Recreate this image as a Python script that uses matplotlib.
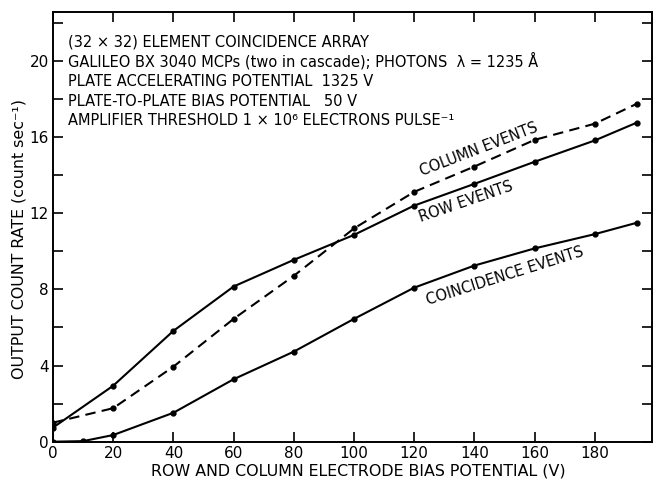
import matplotlib
matplotlib.use("Agg")
import matplotlib.pyplot as plt

# ---- data ----
row_x = [0, 20, 40, 60, 80, 100, 120, 140, 160, 180, 194]
row_y = [0.74, 2.94, 5.82, 8.15, 9.55, 10.86, 12.4, 13.54, 14.7, 15.82, 16.76]

col_x = [0, 20, 40, 60, 80, 100, 120, 140, 160, 180, 194]
col_y = [1.0, 1.76, 3.94, 6.45, 8.71, 11.2, 13.12, 14.45, 15.85, 16.7, 17.75]

coin_x = [0, 10, 20, 40, 60, 80, 100, 120, 140, 160, 180, 194]
coin_y = [0.0, 0.03, 0.35, 1.52, 3.28, 4.73, 6.45, 8.09, 9.25, 10.15, 10.9, 11.5]

xticks = [0, 20, 40, 60, 80, 100, 120, 140, 160, 180]
yticks_major = [0, 4, 8, 12, 16, 20]
yticks_minor = [2, 6, 10, 14, 18, 22]

info_lines = [
    "(32 × 32) ELEMENT COINCIDENCE ARRAY",
    "GALILEO BX 3040 MCPs (two in cascade); PHOTONS  λ = 1235 Å",
    "PLATE ACCELERATING POTENTIAL  1325 V",
    "PLATE-TO-PLATE BIAS POTENTIAL   50 V",
    "AMPLIFIER THRESHOLD 1 × 10⁶ ELECTRONS PULSE⁻¹",
]

plt.rcParams['font.family'] = ['DejaVu Sans']

fig = plt.figure(figsize=(6.54, 4.82), dpi=100)
ax = fig.add_axes([53/654, 1 - 441.7/482, (652 - 53)/654, (441.7 - 12.3)/482])

lw = 1.5
ax.plot(row_x, row_y, color='black', lw=lw, marker='o', ms=3.5)
ax.plot(col_x, col_y, color='black', lw=lw, ls=(0, (5, 3)), marker='o', ms=3.5)
ax.plot(coin_x, coin_y, color='black', lw=lw, marker='o', ms=3.5)

ax.set_xlim(0, 199)
ax.set_ylim(0, 22.55)

ax.set_xticks(xticks)
ax.set_xticklabels([str(v) for v in xticks])
ax.set_yticks(yticks_major)
ax.set_yticklabels([str(v) for v in yticks_major])
ax.set_yticks(yticks_minor, minor=True)

ax.tick_params(axis='both', which='both', direction='in', top=True, right=True,
               labelsize=11, width=1.2, color='black')
ax.tick_params(axis='both', which='major', length=7, pad=3)
ax.tick_params(axis='both', which='minor', length=7)
for s in ax.spines.values():
    s.set_linewidth(1.4)

ax.set_xlabel("ROW AND COLUMN ELECTRODE BIAS POTENTIAL (V)", fontsize=11.4, labelpad=1)
ax.xaxis.set_label_coords(0.509, -0.05)
ax.set_ylabel("OUTPUT COUNT RATE (count sec⁻¹)", fontsize=11.4, labelpad=4)
ax.yaxis.set_label_coords(-0.045, 0.472)

# info text block
ys = [21.0, 19.98, 18.93, 17.88, 16.85]
for t, yv in zip(info_lines, ys):
    ax.text(5.0, yv, t, fontsize=10.5, ha='left', va='center')

# curve labels
ax.text(141.5, 15.35, "COLUMN EVENTS", fontsize=10.5, rotation=21, ha='center', va='center')
ax.text(137.3, 12.6, "ROW EVENTS", fontsize=10.5, rotation=19, ha='center', va='center')
ax.text(150.0, 8.7, "COINCIDENCE EVENTS", fontsize=10.5, rotation=17.5, ha='center', va='center')

fig.savefig("out.png", dpi=100)
